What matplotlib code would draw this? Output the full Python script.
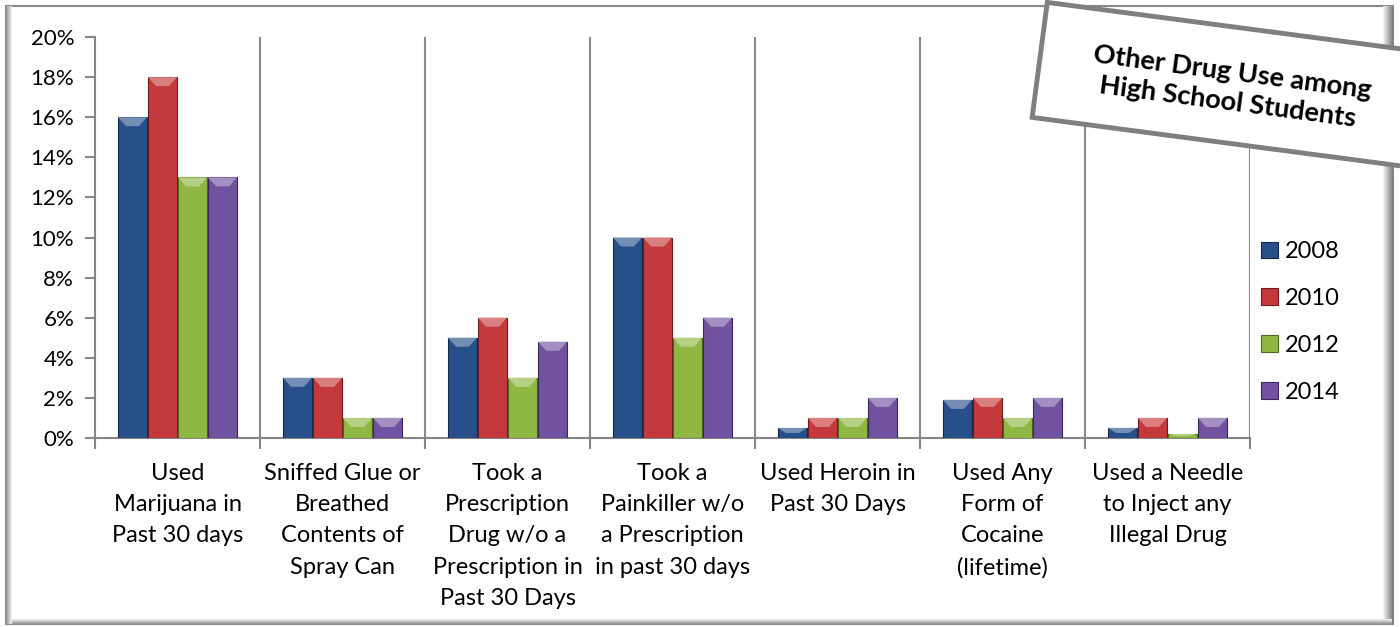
import matplotlib
matplotlib.use('Agg')
import matplotlib.pyplot as plt
from matplotlib.patches import Polygon, Rectangle, Patch
import matplotlib.transforms as mtransforms
import numpy as np

categories = [
    "Used\nMarijuana in\nPast 30 days",
    "Sniffed Glue or\nBreathed\nContents of\nSpray Can",
    "Took a\nPrescription\nDrug w/o a\nPrescription in\nPast 30 Days",
    "Took a\nPainkiller w/o\na Prescription\nin past 30 days",
    "Used Heroin in\nPast 30 Days",
    "Used Any\nForm of\nCocaine\n(lifetime)",
    "Used a Needle\nto Inject any\nIllegal Drug",
]
years = ["2008", "2010", "2012", "2014"]
v2008 = [16, 3, 5, 10, 0.5, 1.9, 0.5]
v2010 = [18, 3, 6, 10, 1, 2, 1]
v2012 = [13, 1, 3, 5, 1, 1, 0.2]
v2014 = [13, 1, 4.8, 6, 2, 2, 1]
series = [v2008, v2010, v2012, v2014]
colors = ["#27508A", "#C43A3C", "#8FB843", "#7152A0"]
edges = ["#14294A", "#6E1A1C", "#4D6820", "#3A2657"]
title = "Other Drug Use among\nHigh School Students"

plt.rcParams['font.family'] = ['Lato', 'DejaVu Sans']

W, H = 14.0, 6.27
fig = plt.figure(figsize=(W, H), dpi=100)
fig.patch.set_facecolor('white')
ax = fig.add_axes([95/1400, 1-438/627, (1250-95)/1400, (438-37)/627])

def lighten(c, f):
    rgb = np.array(matplotlib.colors.to_rgb(c))
    return tuple(rgb + (1-rgb)*f)

x = np.arange(len(categories))
bw = 0.182
for i, (vals, col, ec) in enumerate(zip(series, colors, edges)):
    offs = (i - 1.5) * bw
    bars = ax.bar(x + offs, vals, width=bw*0.97, color=col, edgecolor=ec,
                  linewidth=0.8, zorder=3, label=years[i])
    for b in bars:
        x0 = b.get_x(); w = b.get_width(); h = b.get_height()
        bh = min(0.45, h*0.5)
        poly = Polygon([(x0, h), (x0+w, h), (x0+w*0.72, h-bh), (x0+w*0.28, h-bh)],
                       closed=True, facecolor=lighten(col, 0.35), edgecolor='none', zorder=4)
        ax.add_patch(poly)

ax.set_xlim(-0.5, 6.5)
ax.set_ylim(0, 20)
ax.set_yticks(np.arange(0, 21, 2))
ax.set_yticklabels([f"{v}%" for v in range(0, 21, 2)])
ax.set_xticks(x)
ax.set_xticklabels(categories, fontsize=17, linespacing=1.6, va='top')
ax.set_xticks(np.arange(-0.5, 7.0, 1.0), minor=True)
ax.tick_params(axis='x', which='major', length=0, pad=18)
ax.tick_params(axis='x', which='minor', length=8, width=1.5, color='#868686', direction='out')
ax.tick_params(axis='y', length=7, width=1.5, color='#868686', labelsize=16, pad=8)
ax.grid(False)
for xv in np.arange(0.5, 7.0, 1.0):
    ax.axvline(xv, color='#898989', lw=1.5, zorder=1)
for s in ['top', 'right']:
    ax.spines[s].set_visible(False)
for s in ['left', 'bottom']:
    ax.spines[s].set_color('#868686')
    ax.spines[s].set_linewidth(1.5)

handles = [Patch(facecolor=c, edgecolor=e, lw=0.8) for c, e in zip(colors, edges)]
fig.legend(handles, years, loc='center left', bbox_to_anchor=(1240/1400, 1-322/627),
           frameon=False, fontsize=17, handlelength=0.7, handleheight=0.7,
           labelspacing=1.1, handletextpad=0.3)

# outer frame
def fx(p): return p/1400
def fy(p): return 1 - p/627
frame = Rectangle((fx(6), fy(624)), fx(1393)-fx(6), fy(6)-fy(624), transform=fig.transFigure,
                  facecolor='none', edgecolor='#8a8a8a', lw=1.5, zorder=5)
fig.add_artist(frame)
for k in range(10):
    g = 0.5 + 0.05*k
    fig.add_artist(Rectangle((fx(1392-k), fy(624)), fx(1), fy(6)-fy(624), transform=fig.transFigure,
                             facecolor=(g, g, g), edgecolor='none', zorder=5))
for k in range(5):
    g = 0.6 + 0.08*k
    fig.add_artist(Rectangle((fx(6), fy(624-k)), fx(1392)-fx(6), 1/627, transform=fig.transFigure,
                             facecolor=(g, g, g), edgecolor='none', zorder=5))
for k in range(6):
    g = 0.6 + 0.065*k
    fig.add_artist(Rectangle((fx(6+k), fy(624)), fx(1), fy(6)-fy(624), transform=fig.transFigure,
                             facecolor=(g, g, g), edgecolor='none', zorder=5))

# title box
cx, cy = 12.38, H - 0.86
bwid, bhei = 4.0, 1.16
tr = mtransforms.Affine2D().rotate_deg_around(cx, cy, -7.5) + fig.dpi_scale_trans
box = Rectangle((cx - bwid/2, cy - bhei/2), bwid, bhei, transform=tr, facecolor='white',
                edgecolor='#7f7f7f', lw=3.5, zorder=10)
fig.add_artist(box)
fig.text(12.30/W, (H-0.87)/H, title, rotation=-7.5, rotation_mode='anchor', ha='center',
         va='center', fontsize=19.5, fontweight='bold', zorder=11, linespacing=1.3)

fig.savefig('out.png', dpi=100, facecolor='white')
